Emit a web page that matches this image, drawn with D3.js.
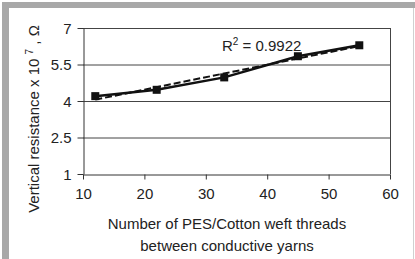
<!DOCTYPE html>
<html>
<head>
<meta charset="utf-8">
<script src="https://cdn.jsdelivr.net/npm/d3@7"></script>
<style>
  body { margin: 0; background: #fff; }
  svg { display: block; font-family: "Liberation Sans", Arial, sans-serif; }
</style>
</head>
<body>
<div id="svgBody"></div>
<script>
// data
var threads = [12, 22, 33, 45, 55];
var resistance = [4.2, 4.46, 4.97, 5.84, 6.29];
var xTicks = [10, 20, 30, 40, 50, 60];
var yTicks = [1, 2.5, 4, 5.5, 7];
var r2Label = "R\u00b2 = 0.9922";

var W = 415, H = 259;
var margin = {top: 28, right: 25, bottom: 85, left: 83};
var width = 390 - margin.left,
    height = 174 - margin.top;

var root = d3.select("#svgBody").append("svg")
    .attr("width", W)
    .attr("height", H);

// grey frame of the figure
root.append("rect").attr("x", 2).attr("y", 2).attr("width", W - 2).attr("height", 6).attr("fill", "#a8a8a8");
root.append("rect").attr("x", 2).attr("y", 2).attr("width", 7).attr("height", H - 2).attr("fill", "#a8a8a8");
root.append("line").attr("x1", 413.5).attr("x2", 413.5).attr("y1", 8).attr("y2", H).attr("stroke", "#d0d0d0");

var svg = root.append("g")
    .attr("transform", "translate(" + margin.left + "," + margin.top + ")");

var x = d3.scaleLinear().domain([10, 60]).range([0, width]);
var y = d3.scaleLinear().domain([1, 7]).range([height, 0]);

// grid lines
svg.selectAll(".grid")
    .data(yTicks.filter(function(d) { return d > 1; }))
    .enter().append("line")
    .attr("x1", 0).attr("x2", width)
    .attr("y1", function(d) { return y(d) + 0.5; })
    .attr("y2", function(d) { return y(d) + 0.5; })
    .attr("stroke", "#444").attr("stroke-width", 1);

// right border
svg.append("line")
    .attr("x1", width + 0.5).attr("x2", width + 0.5)
    .attr("y1", 0).attr("y2", height)
    .attr("stroke", "#444");

var xAxis = svg.append("g")
    .attr("transform", "translate(0," + (height + 0.5) + ")")
    .call(d3.axisBottom(x).tickValues(xTicks).tickSize(5).tickPadding(9).tickSizeOuter(0));
var yAxis = svg.append("g")
    .attr("transform", "translate(0.5,0)")
    .call(d3.axisLeft(y).tickValues(yTicks).tickSize(6).tickPadding(6).tickSizeOuter(0).tickFormat(d3.format("")));

[xAxis, yAxis].forEach(function(a) {
    a.selectAll("path, line").attr("stroke", "#333");
    a.selectAll("text").attr("font-size", "15px").attr("fill", "#222")
        .attr("font-family", '"Liberation Sans", Arial, sans-serif');
});
yAxis.selectAll("text").attr("dy", "0.35em");

// trend line (least squares)
var n = threads.length;
var mx = d3.mean(threads), my = d3.mean(resistance);
var sxy = d3.sum(threads, function(t, i) { return (t - mx) * (resistance[i] - my); });
var sxx = d3.sum(threads, function(t) { return (t - mx) * (t - mx); });
var slope = sxy / sxx, icpt = my - slope * mx;
var x0 = d3.min(threads), x1 = d3.max(threads);
svg.append("line")
    .attr("x1", x(x0)).attr("y1", y(icpt + slope * x0))
    .attr("x2", x(x1)).attr("y2", y(icpt + slope * x1))
    .attr("stroke", "#111").attr("stroke-width", 2)
    .attr("stroke-dasharray", "7,3");

// data line
var pts = threads.map(function(t, i) { return [t, resistance[i]]; });
svg.append("path")
    .datum(pts)
    .attr("fill", "none")
    .attr("stroke", "#111")
    .attr("stroke-width", 2.5)
    .attr("d", d3.line().x(function(d) { return x(d[0]); }).y(function(d) { return y(d[1]); }));

svg.selectAll(".pt")
    .data(pts)
    .enter().append("rect")
    .attr("x", function(d) { return x(d[0]) - 4; })
    .attr("y", function(d) { return y(d[1]) - 4; })
    .attr("width", 8).attr("height", 8)
    .attr("fill", "#111");

// R squared label
svg.append("text")
    .attr("x", 222 - margin.left)
    .attr("y", 51 - margin.top)
    .attr("font-size", "15px")
    .attr("fill", "#222")
    .text("R")
    .append("tspan").attr("font-size", "10px").attr("dy", "-6").text("2")
    .select(function() { return this.parentNode; })
    .append("tspan").attr("dy", "6").text(" = 0.9922");

// x axis title
root.append("text")
    .attr("x", 227).attr("y", 229)
    .attr("text-anchor", "middle")
    .attr("font-size", "15px").attr("fill", "#222")
    .text("Number of PES/Cotton weft threads");
root.append("text")
    .attr("x", 227).attr("y", 251)
    .attr("text-anchor", "middle")
    .attr("font-size", "15px").attr("fill", "#222")
    .text("between conductive yarns");

// y axis title
var yt = root.append("text")
    .attr("transform", "translate(39,119) rotate(-90)")
    .attr("text-anchor", "middle")
    .attr("font-size", "15px").attr("fill", "#222");
yt.append("tspan").text("Vertical resistance x 10 ");
yt.append("tspan").attr("font-size", "10px").attr("dy", "-6").text("7");
yt.append("tspan").attr("dy", "6").text(" , \u03a9");
</script>
</body>
</html>
